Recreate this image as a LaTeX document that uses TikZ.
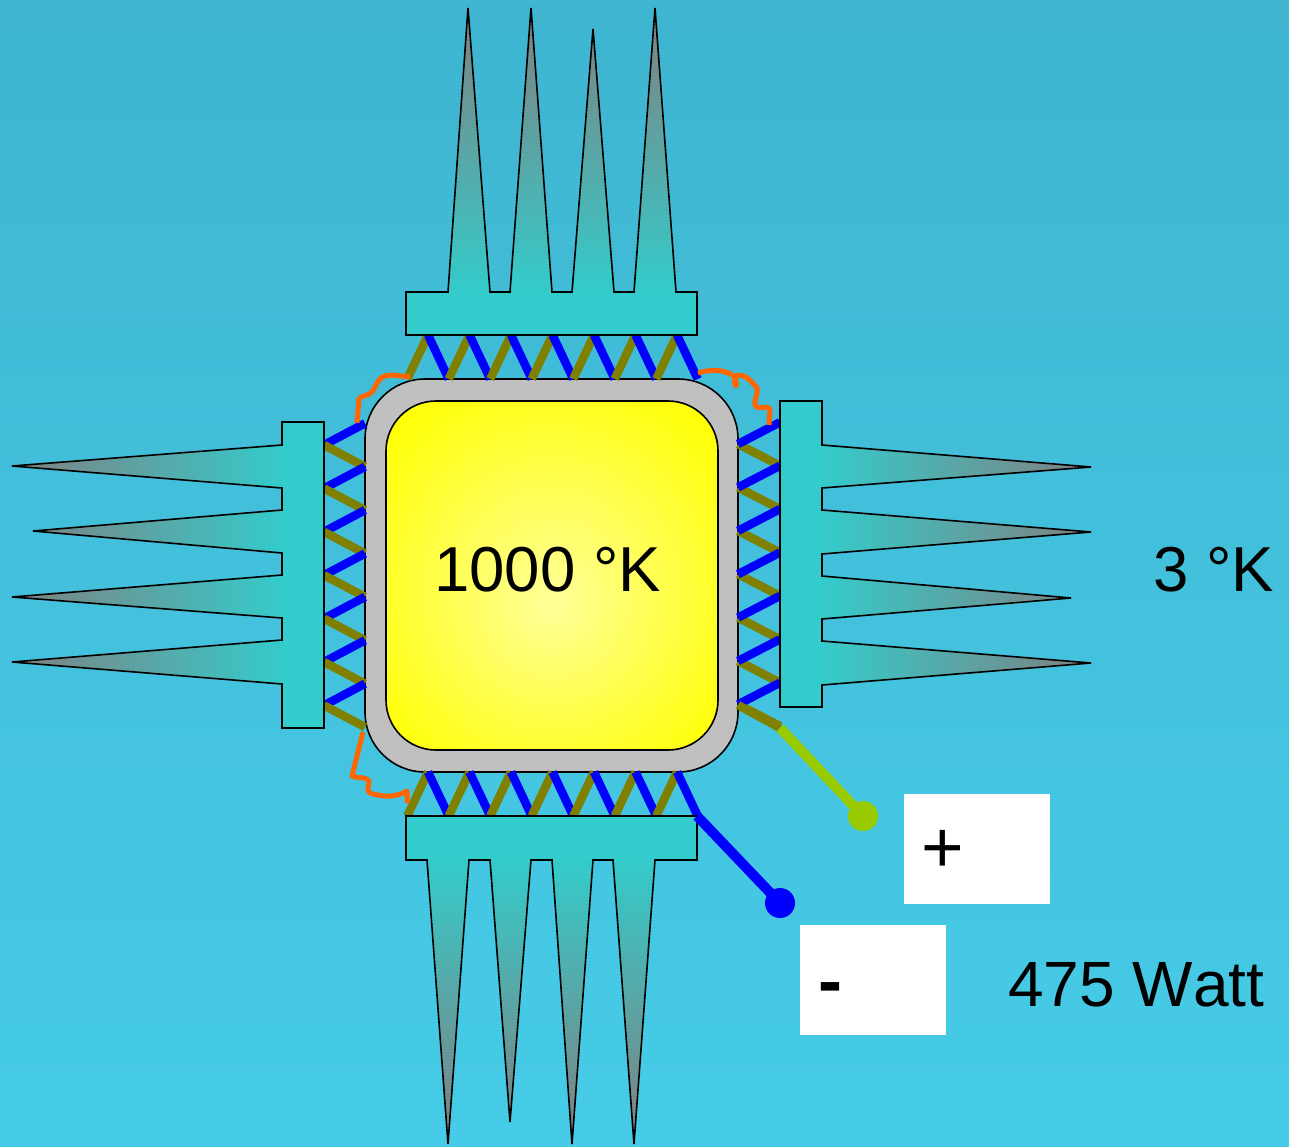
\documentclass[tikz,border=0pt]{standalone}
\usepackage{fontspec}
\setmainfont[Kerning=Off]{Liberation Sans}
\definecolor{bgtop}{HTML}{3FB5D0}
\definecolor{bgbot}{HTML}{46CCE8}
\definecolor{fint}{HTML}{33CCCC}
\definecolor{fing}{HTML}{808080}
\definecolor{wireol}{HTML}{808000}
\definecolor{wireor}{HTML}{FF6600}
\definecolor{wiregr}{HTML}{99CC00}
\definecolor{chipg}{HTML}{C0C0C0}
\definecolor{hot}{HTML}{FFFF99}
\pgfdeclareverticalshading{finshade}{100bp}{color(0bp)=(fint); color(31bp)=(fint); color(75bp)=(fing); color(100bp)=(fing)}
\pgfdeclareradialshading{hotshade}{\pgfpoint{0bp}{-4bp}}{color(0bp)=(hot); color(34bp)=(yellow); color(50bp)=(yellow)}
\tikzset{
  fin/.style={shading=finshade,draw=black,line width=1.6pt,line join=miter},
  olv/.style={draw=wireol,line width=8.5pt},
  blu/.style={draw=blue,line width=8.5pt},
  orw/.style={draw=wireor,line width=5pt,line join=round,line cap=butt},
  lbl/.style={anchor=base west,inner sep=0pt,font=\fontsize{63.5}{63.5}\selectfont},
  wbox/.style={fill=white,draw=none,inner sep=0pt,minimum width=146pt,minimum height=110pt},
  dot/.style={circle,inner sep=0pt,minimum size=30pt}
}
\begin{document}
\begin{tikzpicture}[x=1pt,y=-1pt]
\shade[top color=bgtop,bottom color=bgbot] (0,0) rectangle (1289,1146);
\useasboundingbox (0,0) rectangle (1289,1146);
% chip
\draw[fill=chipg,line width=1.6pt,rounded corners=60pt] (365,379) rectangle (738,772);
\shadedraw[shading=hotshade,draw=black,line width=1.6pt,rounded corners=50pt] (386,401) rectangle (718,750);
% zigzags top and bottom
\foreach \i in {0,...,6}{
  \pgfmathsetmacro\xa{428+41.5*\i}
  \pgfmathsetmacro\xl{\xa-20.75}
  \pgfmathsetmacro\xr{\xa+20.75}
  \draw[olv] (\xl,379) -- (\xa,335);
  \draw[blu] (\xa,335) -- (\xr,379);
  \draw[olv] (\xl,816) -- (\xa,772);
  \draw[blu] (\xa,772) -- (\xr,816);
  % right
  \pgfmathsetmacro\ya{444+43.4*\i}
  \pgfmathsetmacro\yb{\ya-21.7}
  \pgfmathsetmacro\yc{\ya+21.7}
  \draw[olv] (738,\ya) -- (780,\yc);
  \draw[blu] (738,\ya) -- (780,\yb);
  % left
  \pgfmathsetmacro\yd{445+43.4*\i}
  \pgfmathsetmacro\ye{\yd-21.7}
  \pgfmathsetmacro\yf{\yd+21.7}
  \draw[blu] (324,\yd) -- (365,\ye);
  \draw[olv] (324,\yd) -- (365,\yf);
}
% orange wires
\draw[orw] (410,377) .. controls (400,376) and (392,374) .. (385,376) .. controls (376,379) and (376,388) .. (372,392) .. controls (368,396) and (360,396) .. (359,399) -- (357,423);
\draw[orw] (698,373) .. controls (708,370) and (722,368) .. (734,376) .. controls (736,378) and (737,385) .. (736,386) .. controls (734,385) and (734,378) .. (736,376) .. controls (744,372) and (754,384) .. (757,388) .. controls (759,394) and (752,402) .. (756,407) .. controls (760,409) and (768,405) .. (770,409) -- (769,425);
\draw[orw] (363,732) -- (352,776) .. controls (358,779) and (366,776) .. (369,781) .. controls (370,785) and (365,790) .. (370,793) .. controls (382,797) and (395,798) .. (407,791) -- (407,803);
% fins
\shadedraw[fin] (406,335) -- (406,292) -- (448,292) -- (468,8) -- (490,292) -- (510,292) -- (531,8) -- (552,292) -- (572,292) -- (593,29) -- (614,292) -- (634,292) -- (655,8) -- (676,292) -- (697,292) -- (697,335) -- cycle;
\shadedraw[fin,shading angle=180] (406,816) -- (697,816) -- (697,860) -- (655,860) -- (634,1144) -- (613,860) -- (593,860) -- (572,1144) -- (552,860) -- (531,860) -- (510,1122) -- (490,860) -- (469,860) -- (448,1144) -- (427,860) -- (406,860) -- cycle;
\shadedraw[fin,shading angle=90] (324,422) -- (282,422) -- (282,445) -- (12,466) -- (282,488) -- (282,510) -- (33,531) -- (282,553) -- (282,575) -- (12,597) -- (282,618) -- (282,640) -- (12,662) -- (282,684) -- (282,728) -- (324,728) -- cycle;
\shadedraw[fin,shading angle=270] (780,401) -- (822,401) -- (822,445) -- (1091,467) -- (822,488) -- (822,510) -- (1091,532) -- (822,554) -- (822,576) -- (1071,598) -- (822,619) -- (822,641) -- (1091,663) -- (822,685) -- (822,707) -- (780,707) -- cycle;
% terminals
\node[dot,fill=wiregr] (plusdot) at (863,816) {};
\node[dot,fill=blue] (minusdot) at (780,903) {};
\coordinate (plusstart) at (780,728);
\coordinate (minusstart) at (697,816);
\draw[draw=wireol,line width=8.5pt] (738,705) -- (plusstart);
\draw[draw=wiregr,line width=10pt] (plusstart) -- (plusdot.center);
\draw[draw=blue,line width=10pt] (minusstart) -- (minusdot.center);
% boxes
\node[wbox] (plusbox) at (977,849) {};
\node[wbox] (minusbox) at (873,980) {};
\node[lbl,font=\fontsize{73}{73}\selectfont] (plustxt) at (921,872) {+};
\node[lbl,font=\bfseries\fontsize{72}{72}\selectfont] (minustxt) at (818,1005) {-};
% labels
\node[lbl] (hotlbl) at (434,591) {1000 °K};
\node[lbl] (coldlbl) at (1153,591) {3 °K};
\node[lbl,font=\fontsize{64}{64}\selectfont] (wattlbl) at (1008,1006) {475 Watt};
\end{tikzpicture}
\end{document}
